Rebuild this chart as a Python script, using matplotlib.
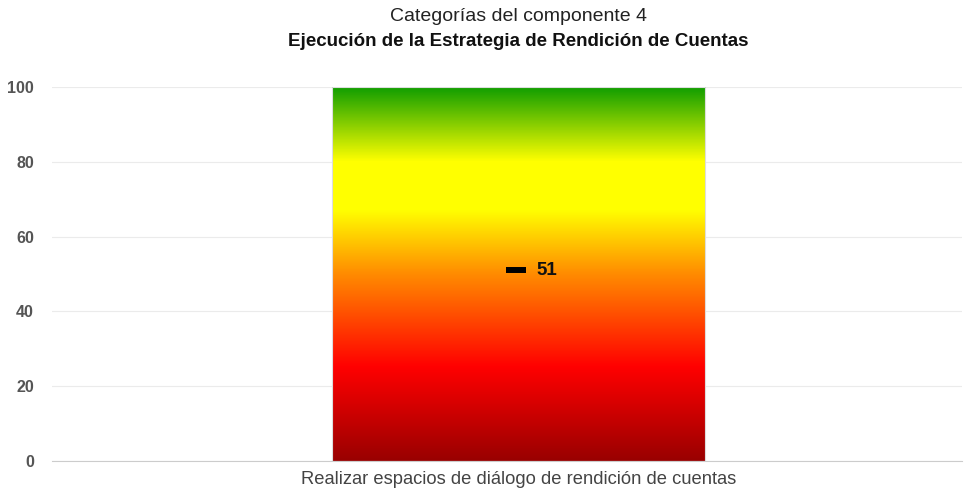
import matplotlib
matplotlib.use("Agg")
import matplotlib.pyplot as plt
import numpy as np
from matplotlib.colors import LinearSegmentedColormap

plt.rcParams['font.family'] = ['Liberation Sans', 'DejaVu Sans']

# datos
categorias = ['Realizar espacios de diálogo de rendición de cuentas']
escala_max = [100]
valores = [51]
ticks_y = [0, 20, 40, 60, 80, 100]

# degradado semáforo (rojo oscuro -> rojo -> naranja -> amarillo -> verde)
cmap = LinearSegmentedColormap.from_list('semaforo', [
    (0.00, '#990000'),
    (0.25, '#ff0000'),
    (0.50, '#ff8c00'),
    (0.67, '#ffff00'),
    (0.80, '#ffff00'),
    (1.00, '#0f9d00'),
])

fig = plt.figure(figsize=(9.69, 4.97), dpi=100)
ax = fig.add_axes([0.0537, 0.0724, 0.9393, 0.7526])

x = np.arange(len(categorias))
barras = ax.bar(x, escala_max, width=1.0, color='none', edgecolor='#dddddd',
                linewidth=0.8, zorder=2)

for b in barras:
    x0, w, h = b.get_x(), b.get_width(), b.get_height()
    grad = np.linspace(0, 1, 256).reshape(-1, 1)
    im = ax.imshow(grad, cmap=cmap, origin='lower', aspect='auto',
                   extent=(x0, x0 + w, 0, h), zorder=1)
    im.set_clip_path(b)

# marcador del valor
ax.scatter(x - 0.005, valores, marker='_', s=196, linewidths=4.3, color='black', zorder=3)
for xi, v in zip(x, valores):
    ax.text(xi + 0.048, v, str(v), fontsize=13.5, fontweight='bold',
            va='center', ha='left', color='#111111', zorder=4)

ax.set_xlim(-1.25, 1.19)
ax.set_ylim(0, 100)
ax.set_yticks(ticks_y)
ax.set_yticklabels([str(t) for t in ticks_y], fontsize=11.5, fontweight='bold', color='#555555')
ax.set_xticks(x)
ax.set_xticklabels(categorias, fontsize=13.2, color='#444444')
ax.tick_params(axis='y', length=0, pad=13)
ax.tick_params(axis='x', length=0, pad=7)

ax.grid(axis='y', color='#ebebeb', linewidth=0.8, zorder=0)
ax.set_axisbelow(True)
for s in ['top', 'right', 'left']:
    ax.spines[s].set_visible(False)
ax.spines['bottom'].set_color('#cccccc')

# títulos centrados sobre la barra
cx = (0 - ax.get_xlim()[0]) / (ax.get_xlim()[1] - ax.get_xlim()[0])
fx = 0.0537 + cx * 0.9393
fig.text(fx, 0.967, 'Categorías del componente 4', ha='center', va='center',
         fontsize=14, color='#222222')
fig.text(fx, 0.917, 'Ejecución de la Estrategia de Rendición de Cuentas', ha='center',
         va='center', fontsize=13.5, fontweight='bold', color='#111111')

fig.savefig('out.png', dpi=100)
